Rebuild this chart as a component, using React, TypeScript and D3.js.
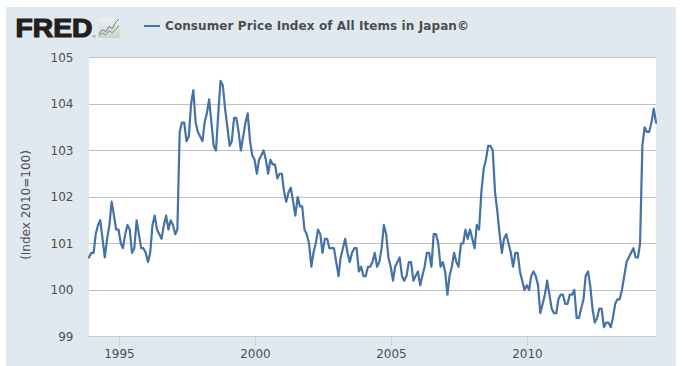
import React from "react";
import * as d3 from "d3";

const cpiValues = [
  100.7,100.8,100.8,101.2,101.4,101.5,101.1,100.7,101.1,101.4,
  101.9,101.6,101.3,101.3,101.0,100.9,101.2,101.4,101.3,100.8,
  100.9,101.5,101.2,100.9,100.9,100.8,100.6,100.8,101.4,101.6,
  101.3,101.2,101.1,101.4,101.6,101.3,101.5,101.4,101.2,101.3,
  103.4,103.6,103.6,103.2,103.3,104.0,104.3,103.6,103.4,103.3,
  103.2,103.6,103.8,104.1,103.6,103.1,103.0,103.8,104.5,104.4,
  103.9,103.5,103.1,103.2,103.7,103.7,103.4,103.0,103.3,103.6,
  103.8,103.2,102.9,102.8,102.5,102.8,102.9,103.0,102.8,102.5,
  102.8,102.7,102.7,102.4,102.5,102.5,102.1,101.9,102.1,102.2,
  101.9,101.6,102.0,101.8,101.8,101.3,101.2,101.0,100.5,100.8,
  101.0,101.3,101.2,100.8,101.1,101.1,100.9,100.9,100.9,100.6,
  100.3,100.7,100.9,101.1,100.8,100.6,100.8,100.9,100.9,100.4,
  100.5,100.3,100.3,100.5,100.5,100.6,100.8,100.5,100.6,100.9,
  101.4,101.2,100.7,100.5,100.2,100.5,100.6,100.7,100.3,100.2,
  100.3,100.6,100.6,100.2,100.3,100.4,100.1,100.3,100.5,100.8,
  100.8,100.5,101.2,101.2,101.0,100.5,100.6,100.4,99.9,100.3,
  100.5,100.8,100.6,100.5,101.0,101.0,101.3,101.1,101.3,101.1,
  100.9,101.4,101.3,102.1,102.6,102.8,103.1,103.1,103.0,102.1,
  101.7,101.2,100.8,101.1,101.2,101.0,100.8,100.5,100.8,100.8,
  100.4,100.2,100.0,100.1,100.0,100.3,100.4,100.3,100.1,99.5,
  99.7,99.9,100.2,99.9,99.6,99.5,99.5,99.8,99.9,99.9,
  99.7,99.7,99.9,99.9,100.0,99.4,99.4,99.6,99.8,100.3,
  100.4,100.1,99.6,99.3,99.4,99.6,99.6,99.2,99.3,99.3,
  99.2,99.4,99.7,99.8,99.8,100.0,100.3,100.6,100.7,100.8,
  100.9,100.7,100.7,101.0,103.1,103.5,103.4,103.4,103.6,103.9,
  103.6,
];
const yTicks = [99, 100, 101, 102, 103, 104, 105];
const xTickYears = [1995, 2000, 2005, 2010];
const seriesTitle = "Consumer Price Index of All Items in Japan©";
const yAxisTitle = "(Index 2010=100)";
const logoBlue = [2, 6, 4, 9, 7, 13, 16];
const logoGreen = [0, 3, 1, 5, 3, 6, 10];

const FONT = "'DejaVu Sans', sans-serif";
const TEXT = "#4d4d4d";
const start = new Date(1993, 11, 1);
const months = cpiValues.map((_, i) => d3.timeMonth.offset(start, i));

export default function App() {
  const x = d3.scaleTime().domain([months[0], months[months.length - 1]]).range([89, 656]);
  const y = d3.scaleLinear().domain([99, 105]).range([336.5, 57.5]);
  const line = d3.line<number>().x((_, i) => x(months[i])).y((d) => y(d));

  const lx = d3.scaleLinear().domain([0, 6]).range([99, 119]);
  const ly = d3.scaleLinear().domain([0, 16]).range([36, 19]);
  const logoLine = d3.line<number>().x((_, i) => lx(i)).y((d) => ly(d));

  return (
    <svg width={682} height={366} style={{ position: "absolute", left: 0, top: 0, background: "#fff" }}>
      <defs>
        <linearGradient id="logoBg" x1="0" y1="0" x2="0" y2="1">
          <stop offset="0" stopColor="#eef0ee" />
          <stop offset="1" stopColor="#cfd2cf" />
        </linearGradient>
      </defs>
      <rect x={6} y={7} width={670} height={359} fill="#E1E9F0" />
      <rect x={89} y={57} width={567} height={279.5} fill="#fff" />

      <text x={15.5} y={37} fontFamily="'Liberation Sans', sans-serif" fontWeight="700" fontSize={26.5}
        fill="#231f20" stroke="#231f20" strokeWidth={1.2} textLength={77} lengthAdjust="spacingAndGlyphs">FRED</text>
      <text x={92.5} y={38} fontFamily="'Liberation Sans', sans-serif" fontSize={4} fill="#231f20">®</text>
      <rect x={98} y={18} width={22} height={20} rx={1} fill="url(#logoBg)" />
      <path d={logoLine(logoBlue) ?? ""} fill="none" stroke="#4f7fae" strokeWidth={1} />
      <path d={logoLine(logoGreen) ?? ""} fill="none" stroke="#7d9a4e" strokeWidth={1} />

      <line x1={144} x2={160} y1={26} y2={26} stroke="#4572A7" strokeWidth={2} />
      <text x={165} y={30} fontFamily={FONT} fontWeight="700" fontSize={12} fill={TEXT}
        textLength={304} lengthAdjust="spacing">{seriesTitle}</text>

      {yTicks.filter((t) => t !== 99).map((t) => {
        const py = Math.floor(y(t)) + 0.5;
        return <line key={t} x1={89} x2={656} y1={py} y2={py} stroke="#C0C0C0" strokeWidth={1} />;
      })}
      <line x1={89} x2={656} y1={336.5} y2={336.5} stroke="#C0D0E0" strokeWidth={1} />
      {xTickYears.map((yr) => {
        const px = Math.round(x(new Date(yr, 0, 1))) + 0.5;
        return (
          <g key={yr}>
            <line x1={px} x2={px} y1={336} y2={346} stroke="#C0D0E0" strokeWidth={1} />
            <text x={px} y={358} textAnchor="middle" fontFamily={FONT} fontSize={12} fill={TEXT}>{yr}</text>
          </g>
        );
      })}
      {yTicks.map((t) => (
        <text key={t} x={73.5} y={y(t) + 4} textAnchor="end" fontFamily={FONT} fontSize={12} fill={TEXT}>{t}</text>
      ))}
      <text transform="translate(30,205) rotate(-90)" textAnchor="middle" fontFamily={FONT} fontSize={12} fill={TEXT}>{yAxisTitle}</text>

      <path d={line(cpiValues) ?? ""} fill="none" stroke="#4572A7" strokeWidth={2.2} strokeLinejoin="round" strokeLinecap="round" />
    </svg>
  );
}
